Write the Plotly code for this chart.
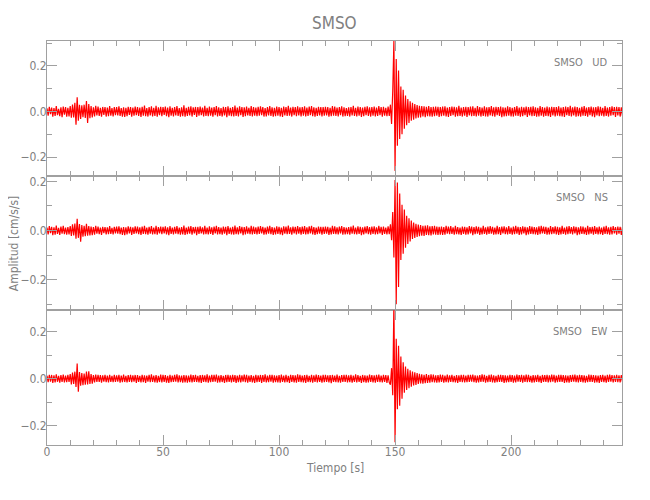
import numpy as np
import plotly.graph_objects as go
from plotly.subplots import make_subplots

DT = 0.5
SCALE = 0.001

ud = [
 14,-18,21,-12,17,-22,15,-19,24,-16,12,-20,18,-25,22,-14,19,-23,16,-21,
 24,-27,31,-26,38,-58,62,-40,29,-33,27,-25,30,-28,46,-50,33,-29,24,-26,
 18,-21,25,-17,22,-19,16,-23,20,-15,19,-22,17,-20,24,-18,15,-21,19,-16,
 20,-17,23,-19,15,-22,18,-24,16,-20,21,-15,19,-23,17,-18,22,-16,20,-19,
 17,-24,21,-18,26,-20,15,-22,19,-17,23,-21,16,-19,25,-23,18,-16,21,-20,
 19,-15,22,-20,17,-25,23,-18,16,-21,20,-17,24,-19,15,-22,18,-20,27,-23,
 16,-19,21,-17,23,-22,18,-15,20,-24,19,-18,22,-16,17,-21,25,-19,16,-20,
 22,-18,17,-23,20,-16,24,-21,18,-19,15,-22,21,-17,19,-25,23,-18,16,-20,
 20,-22,26,-19,17,-21,23,-16,19,-24,18,-20,22,-17,16,-19,24,-21,20,-18,
 17,-20,21,-18,23,-16,19,-22,15,-21,20,-17,24,-19,18,-23,16,-20,22,-18,
 19,-21,16,-24,22,-17,20,-19,25,-18,17,-22,21,-16,19,-20,23,-17,18,-21,
 20,-18,23,-21,17,-19,22,-16,24,-20,18,-23,16,-19,21,-17,20,-22,19,-18,
 21,-17,19,-23,16,-20,24,-18,22,-19,17,-21,20,-16,23,-22,18,-20,15,-19,
 18,-22,20,-17,25,-19,16,-21,22,-18,19,-24,17,-20,21,-16,23,-19,18,-22,
 20,-18,22,-21,17,-19,24,-16,19,-23,21,-18,16,-20,22,-19,
 30,-55,90,310,-260,230,-150,180,-120,110,-100,95,-75,70,-60,55,-50,45,-40,38,-36,33,-30,28,
 -27,25,-26,24,-22,23,-25,21,-20,24,-22,19,-23,21,-20,22,-18,21,-24,19,
 -20,22,-18,23,-21,17,-24,20,-19,22,-16,21,-23,18,-20,25,-19,17,-22,20,
 -18,21,-24,19,-17,22,-20,23,-19,16,-21,24,-18,20,-22,17,-19,23,-21,18,
 -22,19,-17,24,-20,18,-23,21,-16,20,-19,22,-25,18,-21,17,-20,23,-18,19,
 -21,16,-22,20,-18,24,-19,17,-23,21,-20,18,-16,22,-24,19,-17,21,-20,23,
 -19,18,-22,16,-21,24,-18,20,-23,17,-19,22,-20,18,-24,21,-17,19,-22,20,
 -18,23,-20,17,-21,19,-24,22,-16,20,-19,25,-21,18,-17,22,-23,19,-20,16,
 -22,21,-18,24,-19,17,-23,20,-16,22,-21,18,-25,19,-17,23,-20,21,-18,16,
 -21,24,-19,17,-22,20,-18,23,-16,19,-24,21,-17,20,-22,18,-19,
]

ns = [
 12,-16,18,-11,15,-19,13,-17,20,-14,11,-18,16,-13,19,-15,12,-17,14,-16,
 18,-22,25,-20,28,-34,48,-30,26,-46,22,-25,19,-23,27,-21,18,-20,16,-19,
 14,-17,19,-13,16,-15,12,-18,15,-11,14,-16,13,-15,18,-14,11,-16,15,-12,
 16,-13,17,-15,12,-18,14,-19,13,-16,17,-12,15,-18,13,-14,17,-12,16,-15,
 13,-18,16,-14,19,-15,12,-17,15,-13,18,-16,12,-15,19,-17,14,-12,16,-15,
 15,-12,17,-16,13,-19,18,-14,12,-16,15,-13,18,-15,12,-17,14,-16,20,-18,
 12,-15,16,-13,18,-17,14,-12,15,-19,15,-14,17,-12,13,-16,19,-15,12,-16,
 17,-14,13,-18,16,-12,19,-16,14,-15,12,-17,16,-13,15,-19,18,-14,12,-16,
 15,-17,20,-15,13,-16,18,-12,15,-19,14,-16,17,-13,12,-15,19,-16,16,-14,
 13,-16,16,-14,18,-12,15,-17,12,-16,16,-13,19,-15,14,-18,12,-16,17,-14,
 15,-16,12,-19,17,-13,16,-15,20,-14,13,-17,16,-12,15,-16,18,-13,14,-17,
 16,-14,18,-16,13,-15,17,-12,19,-16,14,-18,12,-15,16,-13,15,-17,15,-14,
 16,-13,15,-18,12,-16,19,-14,17,-15,13,-16,16,-12,18,-17,14,-16,12,-15,
 14,-17,16,-13,20,-15,12,-16,17,-14,15,-19,13,-16,16,-12,18,-15,14,-17,
 16,-14,17,-16,13,-15,19,-12,15,-18,16,-14,12,-16,17,-15,
 25,-40,75,-110,205,-300,195,-230,150,-120,105,-95,85,-70,60,-55,50,-45,40,-35,32,-30,27,-26,
 24,-23,22,-21,19,-22,20,-18,21,-19,17,-20,18,-16,19,-17,16,-18,15,-17,
 16,-18,14,-17,19,-13,16,-15,18,-14,13,-17,19,-15,14,-16,12,-18,16,-14,
 15,-17,13,-16,18,-12,16,-19,14,-15,17,-13,15,-18,12,-16,19,-14,13,-17,
 16,-14,18,-13,15,-17,12,-16,19,-15,14,-18,16,-12,17,-15,13,-16,18,-14,
 12,-17,16,-15,19,-13,15,-18,14,-16,17,-12,15,-19,13,-16,18,-14,16,-15,
 14,-16,13,-18,17,-15,19,-12,16,-14,15,-17,12,-16,18,-15,14,-13,17,-16,
 15,-18,13,-16,19,-14,12,-17,16,-15,18,-13,14,-16,17,-12,15,-19,13,-16,
 17,-14,16,-15,12,-18,19,-16,14,-13,15,-17,18,-14,13,-16,16,-15,12,-18,
 16,-14,19,-15,13,-17,15,-16,18,-12,14,-17,16,-13,15,-18,14,
]

ew = [
 13,-15,17,-12,16,-18,14,-16,19,-13,12,-17,15,-14,18,-16,13,-15,17,-14,
 20,-24,26,-22,30,-35,65,-55,28,-30,24,-27,22,-25,30,-24,32,-22,20,-21,
 15,-16,18,-14,17,-13,15,-17,14,-12,16,-15,13,-16,17,-13,12,-15,16,-14,
 14,-12,16,-17,13,-15,18,-14,12,-16,15,-13,17,-15,14,-12,16,-18,15,-13,
 12,-16,17,-15,14,-18,13,-12,16,-15,19,-14,13,-16,15,-17,12,-14,18,-16,
 16,-13,15,-17,12,-18,17,-15,13,-14,16,-12,19,-16,14,-15,13,-17,15,-16,
 14,-17,13,-15,18,-16,15,-13,17,-14,12,-16,15,-18,16,-13,14,-15,19,-17,
 13,-15,17,-14,16,-12,18,-17,13,-16,15,-14,12,-18,16,-15,17,-13,14,-16,
 16,-14,15,-18,13,-15,17,-16,14,-12,18,-15,16,-17,13,-14,15,-16,12,-18,
 17,-15,14,-13,16,-18,15,-14,19,-16,13,-15,17,-12,16,-17,14,-15,13,-16,
 15,-17,18,-14,13,-16,16,-15,12,-18,17,-13,15,-16,14,-17,19,-14,16,-15,
 13,-16,15,-18,17,-14,12,-15,16,-17,14,-13,18,-16,15,-14,13,-17,16,-15,
 17,-13,14,-16,15,-19,16,-14,13,-15,18,-16,12,-17,15,-14,16,-13,17,-16,
 14,-15,16,-17,13,-14,19,-16,15,-13,12,-18,16,-15,14,-17,13,-16,18,-14,
 15,-16,14,-17,16,-13,18,-15,13,-16,17,-14,15,-18,14,-16,
 -25,45,-70,330,-270,170,-130,140,-115,95,-85,70,-60,52,-48,42,-40,36,-34,31,-29,27,-26,24,
 -22,21,-20,19,-21,17,-19,20,-18,16,-17,19,-15,18,-16,14,-17,15,-16,18,
 -14,16,-17,13,-15,18,-16,14,-13,17,-15,12,-16,15,-18,14,-13,16,-15,17,
 -16,13,-15,17,-14,16,-12,18,-15,14,-17,13,-16,15,-14,19,-13,16,-17,12,
 -15,16,-13,18,-16,14,-17,12,-15,16,-14,17,-13,15,-18,14,-16,13,-15,17,
 -14,15,-17,13,-16,18,-12,15,-14,16,-17,14,-13,18,-15,16,-14,12,-17,15,
 -16,14,-13,17,-15,12,-18,16,-14,15,-13,17,-16,14,-15,18,-12,16,-17,13,
 -15,17,-14,16,-13,15,-18,14,-16,13,-17,15,-14,16,-12,18,-15,14,-16,17,
 -13,15,-16,14,-17,12,-15,18,-14,16,-13,15,-17,14,-16,13,-18,15,-14,16,
 -15,13,-17,16,-14,18,-12,15,-16,14,-13,17,-15,14,-16,15,-13,
]

components = ["UD", "NS", "EW"]
station = "SMSO"
series = [ud, ns, ew]
y_ranges = [[-0.281, 0.309], [-0.325, 0.223], [-0.282, 0.291]]
x_range = [0, 247.8]
x_ticks = [0, 50, 100, 150, 200]

FONT = "DejaVu Sans Condensed, Liberation Sans Narrow, Liberation Sans, sans-serif"
GRAY_T = "#808080"
GRAY_L = "#a0a0a0"

fig = make_subplots(rows=3, cols=1, shared_xaxes=True, vertical_spacing=0)

for i, vals in enumerate(series):
    t = np.arange(len(vals)) * DT
    y = np.array(vals) * SCALE
    fig.add_trace(go.Scatter(x=t, y=y, mode="lines",
                             line=dict(color="#ff0000", width=1.2),
                             showlegend=False, hoverinfo="skip"),
                  row=i + 1, col=1)

for i in range(3):
    fig.update_xaxes(row=i + 1, col=1, range=x_range, tickvals=x_ticks,
                     ticks="inside", ticklen=10, tickwidth=1, tickcolor=GRAY_L,
                     showline=True, linecolor=GRAY_L, linewidth=1, mirror="allticks",
                     showgrid=False, zeroline=False,
                     minor=dict(dtick=10, tick0=0, ticks="inside", ticklen=5,
                                tickcolor=GRAY_L, showgrid=False),
                     showticklabels=(i == 2), ticklabelstandoff=-4,
                     tickfont=dict(family=FONT, size=12, color=GRAY_T))
    fig.update_yaxes(row=i + 1, col=1, range=y_ranges[i], dtick=0.2, tick0=0,
                     tickformat=".1f", ticklabelstandoff=-3,
                     ticks="inside", ticklen=10, tickwidth=1, tickcolor=GRAY_L,
                     showline=True, linecolor=GRAY_L, linewidth=1, mirror="allticks",
                     showgrid=False, zeroline=False,
                     minor=dict(dtick=0.1, tick0=0, ticks="inside", ticklen=5,
                                tickcolor=GRAY_L, showgrid=False),
                     tickfont=dict(family=FONT, size=12, color=GRAY_T))

annotations = []
for i, comp in enumerate(components):
    sfx = "" if i == 0 else str(i + 1)
    annotations.append(dict(text=station + "\u00a0\u00a0\u00a0" + comp,
                            xref="x" + sfx + " domain", yref="y" + sfx + " domain",
                            x=0.979, y=0.84, xanchor="right", yanchor="middle",
                            showarrow=False,
                            font=dict(family=FONT, size=11, color=GRAY_T)))

annotations.append(dict(text=station, xref="paper", yref="paper", x=0.5, y=1.044,
                        xanchor="center", yanchor="middle", showarrow=False,
                        font=dict(family=FONT, size=17, color=GRAY_T)))
annotations.append(dict(text="Tiempo [s]", xref="paper", yref="paper", x=0.5, y=-0.057,
                        xanchor="center", yanchor="middle", showarrow=False,
                        font=dict(family=FONT, size=12, color=GRAY_T)))
annotations.append(dict(text="Amplitud [cm/s/s]", xref="paper", yref="paper",
                        x=-0.057, y=0.5, xanchor="center", yanchor="middle",
                        textangle=-90, showarrow=False,
                        font=dict(family=FONT, size=12, color=GRAY_T)))

# page body has an 8 px margin: figure spans x 8..642, y 8..492
fig.update_layout(width=634, height=484, margin=dict(l=39, r=20, t=33, b=47),
                  paper_bgcolor="white", plot_bgcolor="white",
                  annotations=annotations)

fig.write_html("out.html")
